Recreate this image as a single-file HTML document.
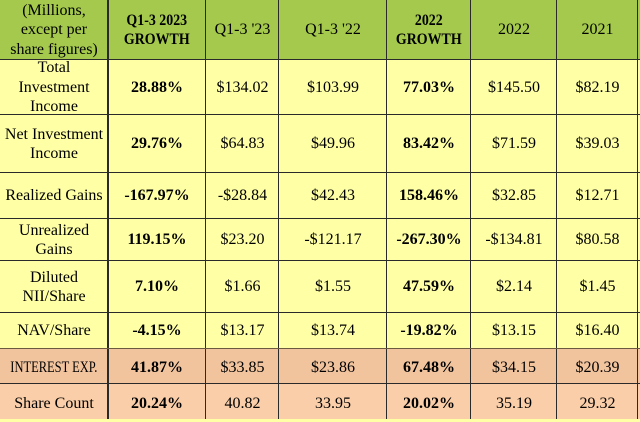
<!DOCTYPE html>
<html><head><meta charset="utf-8">
<style>
html,body{margin:0;padding:0;background:#ffffa6;}
body{width:640px;height:419px;position:relative;overflow:hidden;font-family:"Liberation Serif",serif;font-size:16px;color:#000;}
.c{position:absolute;display:flex;align-items:center;justify-content:center;text-align:center;line-height:19.5px;box-sizing:border-box;white-space:nowrap;}
.b{font-weight:bold;}
.vl{position:absolute;top:0;height:419px;width:1px;background:#2a2a2a;}
.hl{position:absolute;left:0;width:640px;height:1px;background:#2a2a2a;}
.sq{display:inline-block;transform:scaleX(0.78);}
.hq{display:inline-block;transform:scaleX(0.87);}
</style></head><body>
<!-- backgrounds -->
<div style="position:absolute;left:0;top:0;width:640px;height:60px;background:#a4c94c"></div>
<div style="position:absolute;left:0;top:60px;width:640px;height:289px;background:#ffffa6"></div>
<div style="position:absolute;left:0;top:349px;width:640px;height:35px;background:#f2c49e"></div>
<div style="position:absolute;left:0;top:384px;width:640px;height:35px;background:#f9cea8"></div>

<!-- grid lines -->
<div class="vl" style="left:107px;width:2px"></div>
<div class="vl" style="left:205px"></div>
<div class="vl" style="left:278px"></div>
<div class="vl" style="left:386px"></div>
<div class="vl" style="left:470px"></div>
<div class="vl" style="left:556px"></div>
<div class="vl" style="left:637px"></div>
<div class="hl" style="top:59px"></div>
<div class="hl" style="top:114px"></div>
<div class="hl" style="top:172px"></div>
<div class="hl" style="top:218px"></div>
<div class="hl" style="top:260px"></div>
<div class="hl" style="top:312px"></div>
<div class="hl" style="top:348px;background:#6b5a40"></div>
<div class="hl" style="top:383px"></div>

<!-- header -->
<div class="c" style="left:0;top:0;width:108px;height:60px">(Millions,<br>except per<br>share figures)</div>
<div class="c b" style="left:108px;top:0;width:98px;height:60px"><span class="hq">Q1-3 2023<br>GROWTH</span></div>
<div class="c" style="left:206px;top:0;width:73px;height:60px">Q1-3 '23</div>
<div class="c" style="left:279px;top:0;width:108px;height:60px">Q1-3 '22</div>
<div class="c b" style="left:387px;top:0;width:84px;height:60px"><span class="hq">2022<br>GROWTH</span></div>
<div class="c" style="left:471px;top:0;width:86px;height:60px">2022</div>
<div class="c" style="left:557px;top:0;width:81px;height:60px">2021</div>

<!-- row 1 -->
<div class="c" style="left:0;top:60px;width:108px;height:55px">Total<br>Investment<br>Income</div>
<div class="c b" style="left:108px;top:60px;width:98px;height:55px">28.88%</div>
<div class="c" style="left:206px;top:60px;width:73px;height:55px">$134.02</div>
<div class="c" style="left:279px;top:60px;width:108px;height:55px">$103.99</div>
<div class="c b" style="left:387px;top:60px;width:84px;height:55px">77.03%</div>
<div class="c" style="left:471px;top:60px;width:86px;height:55px">$145.50</div>
<div class="c" style="left:557px;top:60px;width:81px;height:55px">$82.19</div>

<!-- row 2 -->
<div class="c" style="left:0;top:115px;width:108px;height:58px">Net Investment<br>Income</div>
<div class="c b" style="left:108px;top:115px;width:98px;height:58px">29.76%</div>
<div class="c" style="left:206px;top:115px;width:73px;height:58px">$64.83</div>
<div class="c" style="left:279px;top:115px;width:108px;height:58px">$49.96</div>
<div class="c b" style="left:387px;top:115px;width:84px;height:58px">83.42%</div>
<div class="c" style="left:471px;top:115px;width:86px;height:58px">$71.59</div>
<div class="c" style="left:557px;top:115px;width:81px;height:58px">$39.03</div>

<!-- row 3 -->
<div class="c" style="left:0;top:173px;width:108px;height:46px">Realized Gains</div>
<div class="c b" style="left:108px;top:173px;width:98px;height:46px">-167.97%</div>
<div class="c" style="left:206px;top:173px;width:73px;height:46px">-$28.84</div>
<div class="c" style="left:279px;top:173px;width:108px;height:46px">$42.43</div>
<div class="c b" style="left:387px;top:173px;width:84px;height:46px">158.46%</div>
<div class="c" style="left:471px;top:173px;width:86px;height:46px">$32.85</div>
<div class="c" style="left:557px;top:173px;width:81px;height:46px">$12.71</div>

<!-- row 4 -->
<div class="c" style="left:0;top:219px;width:108px;height:42px">Unrealized<br>Gains</div>
<div class="c b" style="left:108px;top:219px;width:98px;height:42px">119.15%</div>
<div class="c" style="left:206px;top:219px;width:73px;height:42px">$23.20</div>
<div class="c" style="left:279px;top:219px;width:108px;height:42px">-$121.17</div>
<div class="c b" style="left:387px;top:219px;width:84px;height:42px">-267.30%</div>
<div class="c" style="left:471px;top:219px;width:86px;height:42px">-$134.81</div>
<div class="c" style="left:557px;top:219px;width:81px;height:42px">$80.58</div>

<!-- row 5 -->
<div class="c" style="left:0;top:261px;width:108px;height:52px">Diluted<br>NII/Share</div>
<div class="c b" style="left:108px;top:261px;width:98px;height:52px">7.10%</div>
<div class="c" style="left:206px;top:261px;width:73px;height:52px">$1.66</div>
<div class="c" style="left:279px;top:261px;width:108px;height:52px">$1.55</div>
<div class="c b" style="left:387px;top:261px;width:84px;height:52px">47.59%</div>
<div class="c" style="left:471px;top:261px;width:86px;height:52px">$2.14</div>
<div class="c" style="left:557px;top:261px;width:81px;height:52px">$1.45</div>

<!-- row 6 -->
<div class="c" style="left:0;top:313px;width:108px;height:36px">NAV/Share</div>
<div class="c b" style="left:108px;top:313px;width:98px;height:36px">-4.15%</div>
<div class="c" style="left:206px;top:313px;width:73px;height:36px">$13.17</div>
<div class="c" style="left:279px;top:313px;width:108px;height:36px">$13.74</div>
<div class="c b" style="left:387px;top:313px;width:84px;height:36px">-19.82%</div>
<div class="c" style="left:471px;top:313px;width:86px;height:36px">$13.15</div>
<div class="c" style="left:557px;top:313px;width:81px;height:36px">$16.40</div>

<!-- row 7 -->
<div class="c" style="left:0;top:350px;width:108px;height:36px"><span class="sq">INTEREST EXP.</span></div>
<div class="c b" style="left:108px;top:350px;width:98px;height:36px">41.87%</div>
<div class="c" style="left:206px;top:350px;width:73px;height:36px">$33.85</div>
<div class="c" style="left:279px;top:350px;width:108px;height:36px">$23.86</div>
<div class="c b" style="left:387px;top:350px;width:84px;height:36px">67.48%</div>
<div class="c" style="left:471px;top:350px;width:86px;height:36px">$34.15</div>
<div class="c" style="left:557px;top:350px;width:81px;height:36px">$20.39</div>

<!-- row 8 -->
<div class="c" style="left:0;top:386px;width:108px;height:36px">Share Count</div>
<div class="c b" style="left:108px;top:386px;width:98px;height:36px">20.24%</div>
<div class="c" style="left:206px;top:386px;width:73px;height:36px">40.82</div>
<div class="c" style="left:279px;top:386px;width:108px;height:36px">33.95</div>
<div class="c b" style="left:387px;top:386px;width:84px;height:36px">20.02%</div>
<div class="c" style="left:471px;top:386px;width:86px;height:36px">35.19</div>
<div class="c" style="left:557px;top:386px;width:81px;height:36px">29.32</div>
</body></html>
